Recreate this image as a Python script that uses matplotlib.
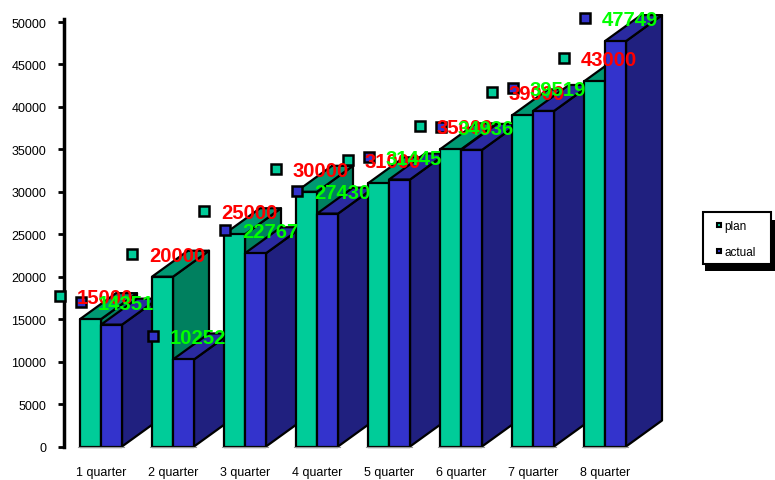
import numpy as np
import matplotlib
matplotlib.use("Agg")
import matplotlib.pyplot as plt
from matplotlib.lines import Line2D
from matplotlib.patches import Rectangle

plt.rcParams["font.family"] = ["Liberation Sans", "DejaVu Sans"]

quarters = ["1 quarter", "2 quarter", "3 quarter", "4 quarter",
            "5 quarter", "6 quarter", "7 quarter", "8 quarter"]
plan = [15000, 20000, 25000, 30000, 31000, 35000, 39000, 43000]
actual = [14351, 10252, 22767, 27430, 31445, 34936, 39519, 47749]
yticks = list(range(0, 50001, 5000))

W, H = 775, 481
fig = plt.figure(figsize=(W / 100, H / 100), dpi=100)
ax = fig.add_axes([64 / W, (H - 447.5) / H, (W - 64) / W, 427.5 / H])
ax.patch.set_alpha(0)

# one x unit is a group, one y unit is a sale value
group_px = 72.0
val_per_px = 50000 / 424.5
ax.set_xlim((64 - 101) / group_px, (W - 101) / group_px)
ax.set_ylim(0, 427.5 * val_per_px)

bar_w = 21 / group_px
depth_x = 36 / group_px
depth_y = 26 * val_per_px

PLAN = dict(front="#00CC99", top="#009973", side="#00805F", mark="#00CC99")
ACTUAL = dict(front="#3333CC", top="#2A2AA0", side="#20207F", mark="#3333CC")


def draw_bar(left, value, c):
    right = left + bar_w
    edge = dict(edgecolor="black", linewidth=1.6, joinstyle="round", clip_on=False)
    ax.fill([right, right + depth_x, right + depth_x, right],
            [0, depth_y, value + depth_y, value], facecolor=c["side"], **edge)
    ax.fill([left, left + depth_x, right + depth_x, right],
            [value, value + depth_y, value + depth_y, value], facecolor=c["top"], **edge)
    ax.fill([left, right, right, left], [0, 0, value, value], facecolor=c["front"], **edge)


for i in range(len(quarters)):
    draw_bar(i - bar_w, plan[i], PLAN)
    draw_bar(i, actual[i], ACTUAL)
    # grey floor line under each group
    ax.plot([i - bar_w - 2 / group_px, i + bar_w + 2 / group_px], [-60, -60],
            color="#999999", lw=0.8, clip_on=False, zorder=1)

# markers and value labels sit up and left of each front face
off_x = -20 / group_px
off_y = 23 * val_per_px
lab_x = 17 / group_px
for i in range(len(quarters)):
    for left, vals, c, txt_col in [(i - bar_w, plan, PLAN, "#FF0000"),
                                   (i, actual, ACTUAL, "#00FF00")]:
        mx, my = left + off_x, vals[i] + off_y
        ax.plot([mx], [my], "s", ms=6.5, mfc=c["mark"], mec="black", mew=1.8,
                clip_on=False, zorder=5)
        ax.text(mx + lab_x, my - 1.5 * val_per_px, str(vals[i]), color=txt_col, fontsize=14.6,
                fontweight="bold", ha="left", va="center", zorder=6, clip_on=False)

ax.set_yticks(yticks)
ax.tick_params(axis="y", length=4, width=2, labelsize=9, pad=8.7, color="black")
ax.set_xticks(range(len(quarters)))
ax.set_xticklabels(quarters)
ax.tick_params(axis="x", length=0, labelsize=9, pad=14)
for s in ["top", "right", "bottom"]:
    ax.spines[s].set_visible(False)
ax.spines["left"].set_linewidth(2.5)

# legend box with a hard shadow, drawn separately so its size can be set
fig.add_artist(Rectangle((705 / W, (H - 272) / H), 70 / W, 51 / H, transform=fig.transFigure,
                         facecolor="black", edgecolor="none", zorder=8))
fig.add_artist(Rectangle((702.5 / W, (H - 264.5) / H), 68 / W, 51 / H, transform=fig.transFigure,
                         facecolor="white", edgecolor="black", lw=1.5, zorder=9))

handles = [Line2D([], [], ls="", marker="s", ms=3.5, mfc=PLAN["mark"], mec="black", mew=1.5),
           Line2D([], [], ls="", marker="s", ms=3.5, mfc=ACTUAL["mark"], mec="black", mew=1.5)]
leg = fig.legend(handles, ["plan", "actual"], loc="center",
                 bbox_to_anchor=(735 / W, (H - 240) / H), fontsize=8.5, frameon=False,
                 handlelength=0.8, handletextpad=0.08, labelspacing=1.15,
                 borderpad=0, borderaxespad=0)
leg.set_zorder(10)

fig.savefig("out.png", dpi=100)
